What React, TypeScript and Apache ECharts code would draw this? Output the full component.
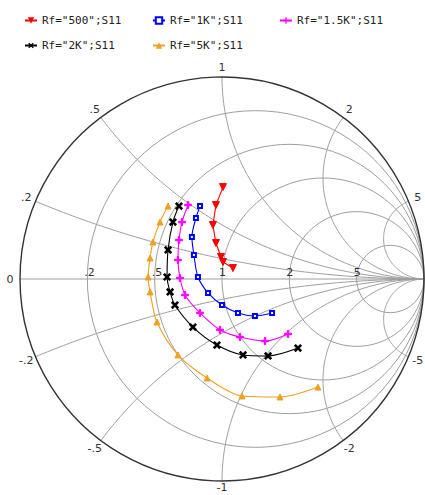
import React, { useEffect, useRef } from "react";
import * as echarts from "echarts";

// ---- data (reflection coefficient S11 as [real, imag]) ----
const seriesNames = ['Rf="500";S11', 'Rf="1K";S11', 'Rf="1.5K";S11', 'Rf="2K";S11', 'Rf="5K";S11'];
const seriesColors = ["#ff0000", "#0000ff", "#ff00ff", "#000000", "#f0a020"];

const s11Rf500: [number, number][] = [
  [0.005, 0.455], [-0.03, 0.366], [-0.045, 0.267], [-0.03, 0.178], [-0.005, 0.109], [0.005, 0.084], [0.054, 0.054],
];
const s11Rf1K: [number, number][] = [
  [-0.109, 0.361], [-0.129, 0.302], [-0.149, 0.208], [-0.139, 0.119], [-0.119, 0.01],
  [-0.069, -0.069], [0.0, -0.129], [0.079, -0.168], [0.163, -0.183], [0.248, -0.168],
];
const s11Rf1p5K: [number, number][] = [
  [-0.168, 0.366], [-0.198, 0.282], [-0.213, 0.193], [-0.218, 0.094], [-0.208, 0.005], [-0.183, -0.079],
  [-0.109, -0.168], [-0.01, -0.252], [0.089, -0.287], [0.213, -0.307], [0.327, -0.272],
];
const s11Rf2K: [number, number][] = [
  [-0.213, 0.361], [-0.243, 0.282], [-0.267, 0.144], [-0.272, 0.01], [-0.257, -0.064], [-0.233, -0.129],
  [-0.144, -0.238], [-0.025, -0.327], [0.104, -0.376], [0.228, -0.381], [0.376, -0.342],
];
const s11Rf5K: [number, number][] = [
  [-0.267, 0.361], [-0.307, 0.282], [-0.342, 0.183], [-0.356, 0.104], [-0.366, 0.01], [-0.356, -0.064],
  [-0.322, -0.213], [-0.218, -0.376], [-0.074, -0.49], [0.099, -0.579], [0.287, -0.584], [0.475, -0.535],
];

// ---- Smith chart grid values and labels ----
const resistanceValues = [0.2, 0.5, 1, 2, 5];
const resistanceLabels = [".2", ".5", "1", "2", "5"];
const reactanceValues = [0.2, 0.5, 1, 2, 5, -0.2, -0.5, -1, -2, -5];
const reactanceLabels = [".2", ".5", "1", "2", "5", "-.2", "-.5", "-1", "-2", "-5"];
const zeroLabel = "0";

const plusPath = "path://M4,0L6,0L6,4L10,4L10,6L6,6L6,10L4,10L4,6L0,6L0,4L4,4Z";
const symbolDefs: [string, number, number][] = [
  ["triangle", 180, 7],
  ["emptyRect", 0, 4],
  [plusPath, 0, 7],
  [plusPath, 45, 8],
  ["triangle", 0, 6],
];
const traces = [s11Rf500, s11Rf1K, s11Rf1p5K, s11Rf2K, s11Rf5K];
const legendPos: [number, number][] = [
  [24, 15], [152, 15], [279, 15], [24, 40], [152, 40],
];

const GRID = "#9e9e9e";
const LABEL_FONT = '11px "DejaVu Sans", sans-serif';

function gammaOf(r: number, x: number): [number, number] {
  const d = (r + 1) * (r + 1) + x * x;
  return [(r * r + x * x - 1) / d, (2 * x) / d];
}

function renderSmith(_params: any, api: any) {
  const children: any[] = [];
  const c = api.coord([0, 0]);
  const unit = api.size([1, 0])[0];

  resistanceValues.forEach((r) => {
    const cc = api.coord([r / (r + 1), 0]);
    children.push({
      type: "circle",
      shape: { cx: cc[0], cy: cc[1], r: unit / (r + 1) },
      style: { stroke: GRID, fill: "none", lineWidth: 1 },
    });
  });

  reactanceValues.forEach((x) => {
    const ax = Math.abs(x);
    const k = 1 / ax;
    const rel = [-2 / (ax * ax + 1), (ax * ax - 1) / (ax * (ax * ax + 1))];
    let a1 = Math.atan2(rel[1], rel[0]);
    if (a1 < 0) a1 += 2 * Math.PI;
    const a2 = 1.5 * Math.PI;
    const pts: number[][] = [];
    const N = 120;
    for (let i = 0; i <= N; i++) {
      const a = a1 + ((a2 - a1) * i) / N;
      const re = 1 + k * Math.cos(a);
      const im = (k + k * Math.sin(a)) * Math.sign(x);
      pts.push(api.coord([re, im]));
    }
    children.push({
      type: "polyline",
      shape: { points: pts },
      style: { stroke: GRID, fill: "none", lineWidth: 1 },
    });
  });

  const pl = api.coord([-1, 0]);
  const pr = api.coord([1, 0]);
  children.push({
    type: "line",
    shape: { x1: pl[0], y1: pl[1], x2: pr[0], y2: pr[1] },
    style: { stroke: GRID, lineWidth: 1 },
  });

  children.push({
    type: "circle",
    shape: { cx: c[0], cy: c[1], r: unit },
    style: { stroke: "#333333", fill: "none", lineWidth: 1.4 },
  });

  resistanceValues.forEach((r, i) => {
    const p = api.coord([(r - 1) / (r + 1), 0]);
    children.push({
      type: "text",
      style: {
        text: resistanceLabels[i],
        x: p[0] - 3,
        y: p[1] - 1,
        align: "left",
        verticalAlign: "bottom",
        font: LABEL_FONT,
        fill: "#333333",
      },
    });
  });

  const rim = (g: [number, number], text: string) => {
    const p = api.coord(g);
    const dx = p[0] - c[0];
    const dy = p[1] - c[1];
    const len = Math.sqrt(dx * dx + dy * dy) || 1;
    children.push({
      type: "text",
      style: {
        text,
        x: p[0] + (dx / len) * 10,
        y: Math.min(p[1] + (dy / len) * 10, 487),
        align: "center",
        verticalAlign: "middle",
        font: LABEL_FONT,
        fill: "#333333",
      },
    });
  };
  reactanceValues.forEach((x, i) => rim(gammaOf(0, x), reactanceLabels[i]));
  rim([-1, 0], zeroLabel);

  return { type: "group", children };
}

export default function App() {
  const ref = useRef<HTMLDivElement>(null);
  useEffect(() => {
    if (!ref.current) return;
    const chart = echarts.init(ref.current, null, { renderer: "svg" });
    const lineSeries = traces.map((data, i) => ({
      name: seriesNames[i],
      type: "line",
      data,
      z: 5,
      smooth: i === 0 ? false : 0.3,
      symbol: symbolDefs[i][0],
      symbolRotate: symbolDefs[i][1],
      symbolSize: symbolDefs[i][2],
      showAllSymbol: true,
      lineStyle: { color: seriesColors[i], width: 1.1 },
      itemStyle: { color: seriesColors[i], borderColor: seriesColors[i] },
      silent: true,
    }));
    chart.setOption({
      animation: false,
      backgroundColor: "#ffffff",
      grid: { left: 20, top: 77, width: 404, height: 404 },
      xAxis: { type: "value", min: -1, max: 1, show: false },
      yAxis: { type: "value", min: -1, max: 1, show: false },
      legend: seriesNames.map((name, i) => ({
        data: [name],
        left: legendPos[i][0],
        top: legendPos[i][1],
        padding: 0,
        itemWidth: 12,
        itemHeight: 8,
        selectedMode: false,
        textStyle: { fontFamily: '"DejaVu Sans Mono", monospace', fontSize: 11, color: "#222222" },
      })),
      series: [
        {
          type: "custom",
          renderItem: renderSmith,
          data: [[0, 0]],
          clip: false,
          silent: true,
          z: 1,
        },
        ...lineSeries,
      ],
    });
    return () => chart.dispose();
  }, []);
  return (
    <div
      ref={ref}
      style={{ position: "absolute", left: 0, top: 0, width: 425, height: 495 }}
    />
  );
}
